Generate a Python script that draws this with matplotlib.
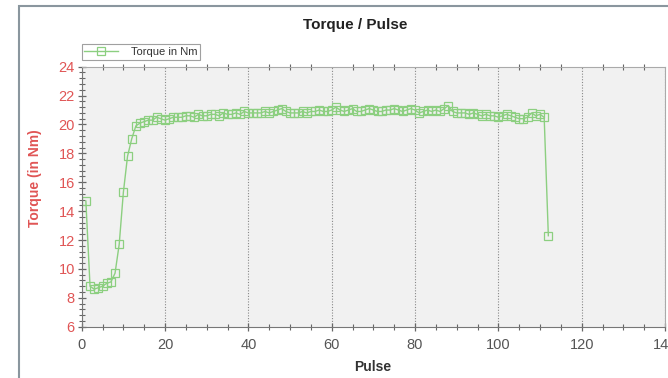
import matplotlib
matplotlib.use("Agg")
import matplotlib.pyplot as plt
from matplotlib.ticker import MultipleLocator
from matplotlib.patches import Rectangle

plt.rcParams['font.family'] = ['Liberation Sans', 'DejaVu Sans']

pulse = list(range(1, 113))
torque = [
    14.7, 8.8, 8.6, 8.7, 8.8, 9.0, 9.1, 9.7, 11.7, 15.3,
    17.8, 19.0, 19.9, 20.1, 20.2, 20.3, 20.3, 20.5, 20.4, 20.3,
    20.4, 20.5, 20.5, 20.5, 20.6, 20.6, 20.5, 20.7, 20.6, 20.6,
    20.7, 20.7, 20.6, 20.8, 20.7, 20.7, 20.8, 20.7, 20.9, 20.8,
    20.8, 20.8, 20.8, 20.9, 20.8, 20.9, 21.0, 21.1, 20.9, 20.8,
    20.8, 20.8, 20.9, 20.8, 20.9, 20.9, 21.0, 20.9, 20.9, 21.0,
    21.2, 21.0, 20.9, 21.0, 21.1, 20.9, 20.9, 21.0, 21.1, 21.0,
    20.9, 20.9, 21.0, 21.0, 21.1, 21.0, 20.9, 21.0, 21.1, 21.0,
    20.8, 20.9, 21.0, 20.9, 21.0, 20.9, 21.1, 21.3, 20.9, 20.8,
    20.8, 20.8, 20.7, 20.8, 20.7, 20.6, 20.7, 20.6, 20.6, 20.5,
    20.6, 20.7, 20.6, 20.5, 20.4, 20.4, 20.5, 20.8, 20.6, 20.7,
    20.5, 12.3,
]
x_ticks = [0, 20, 40, 60, 80, 100, 120, 140]
y_ticks = [6, 8, 10, 12, 14, 16, 18, 20, 22, 24]

W, H = 668, 378
fig = plt.figure(figsize=(W / 100, H / 100), dpi=100)

# outer chart frame
fig.patches.append(Rectangle((18.5 / W, -0.1), 1.2, 1 - 5.5 / H + 0.1,
                             transform=fig.transFigure, fill=False,
                             edgecolor='#8a969e', linewidth=1.5))

ax = fig.add_axes([81.7 / W, 1 - 326.7 / H, (665 - 81.7) / W, (326.7 - 66.7) / H])
ax.set_facecolor('#f1f1f1')

green = '#8ccf80'
ax.plot(pulse, torque, color=green, linewidth=1.0, marker='s', markersize=5.5,
        markerfacecolor='none', markeredgecolor=green, markeredgewidth=0.9,
        label='Torque in Nm')

ax.set_xlim(0, 140)
ax.set_ylim(6, 24)
ax.set_xticks(x_ticks)
ax.set_yticks(y_ticks)
ax.xaxis.set_minor_locator(MultipleLocator(5))
ax.yaxis.set_minor_locator(MultipleLocator(0.4))

for s in ax.spines.values():
    s.set_color('#aaaaaa')
    s.set_linewidth(0.8)
ax.spines['left'].set_color('#777777')
ax.spines['bottom'].set_color('#777777')

ax.tick_params(axis='both', which='major', direction='inout', length=6, width=0.9, color='#666666')
ax.tick_params(axis='both', which='minor', direction='inout', length=4, width=0.8, color='#666666')
ax.tick_params(axis='x', which='both', top=True, labeltop=False)
ax.tick_params(axis='x', which='major', top=False)
ax.tick_params(axis='y', labelcolor='#e05555', labelsize=10.5, pad=2)
ax.tick_params(axis='x', labelcolor='#555555', labelsize=10.5, pad=5)

ax.grid(axis='x', which='major', linestyle=(0, (1, 1.5)), color='#888888', linewidth=0.8)
ax.grid(axis='y', visible=False)

fig.text(355 / W, 1 - 25 / H, 'Torque / Pulse', ha='center', va='center',
         fontsize=11, fontweight='bold', color='#222222')
fig.text(35 / W, 1 - 178 / H, 'Torque (in Nm)', ha='center', va='center',
         rotation=90, fontsize=10, fontweight='bold', color='#e05555')
fig.text(373 / W, 1 - 367 / H, 'Pulse', ha='center', va='center',
         fontsize=10, fontweight='bold', color='#333333')

leg = ax.legend(loc='lower left', bbox_to_anchor=(0.0, 1.026), frameon=True,
                fancybox=False, fontsize=8, borderpad=0.25, handlelength=3,
                handletextpad=1.2, borderaxespad=0.0, markerscale=1.0)
leg.get_frame().set_edgecolor('#888888')
leg.get_frame().set_linewidth(0.8)
for t in leg.get_texts():
    t.set_color('#333333')

fig.savefig('out.png', dpi=100)
